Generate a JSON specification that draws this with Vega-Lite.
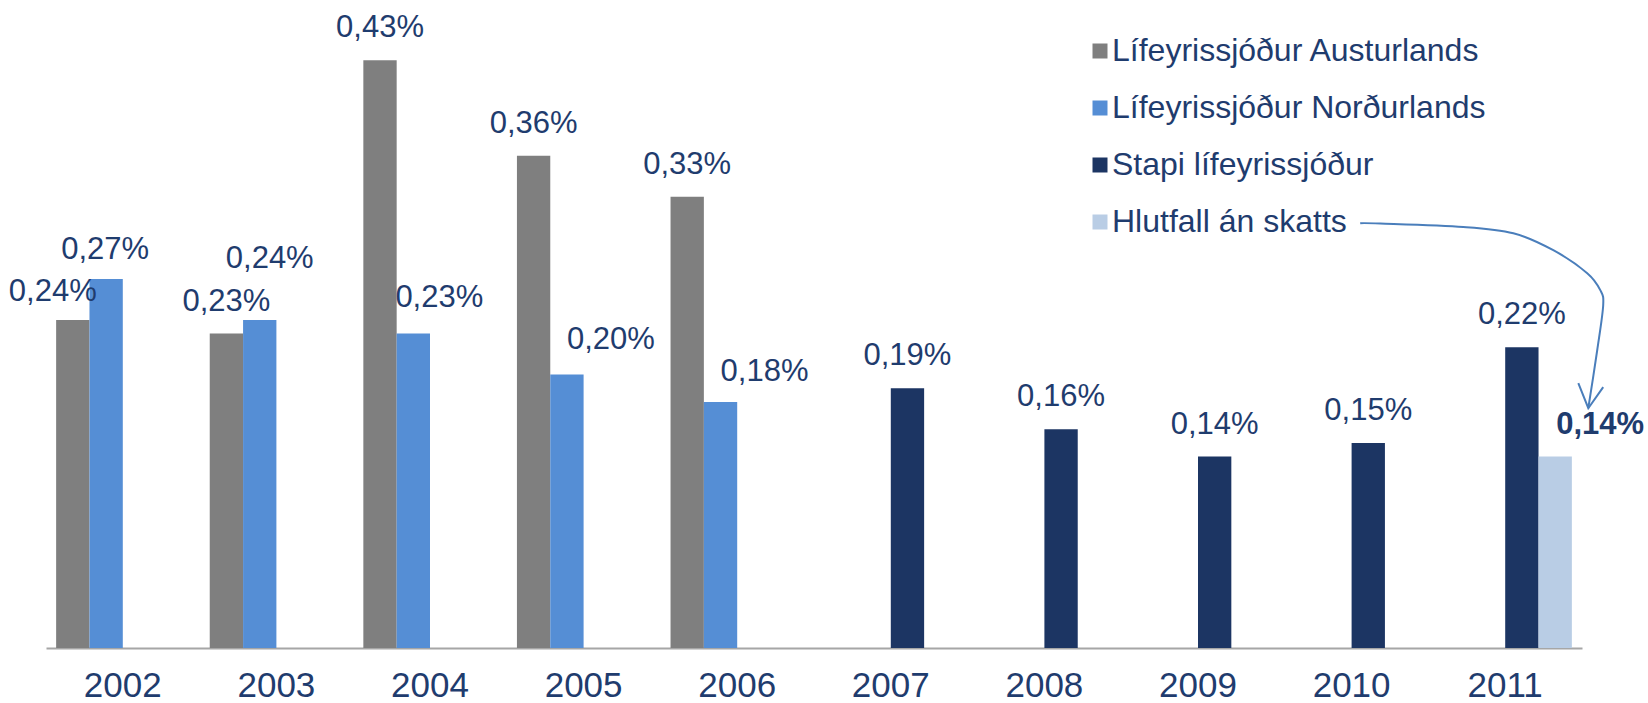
{
  "$schema": "https://vega.github.io/schema/vega-lite/v6.json",
  "autosize": {"type": "none"},
  "width": 1536,
  "height": 648,
  "padding": {"left": 46, "top": 0, "right": 66, "bottom": 55},
  "background": "white",
  "config": {
    "view": {"stroke": null},
    "font": "Liberation Sans",
    "legend": {
      "orient": "none",
      "legendX": 1038,
      "legendY": 35,
      "direction": "vertical",
      "symbolType": "square",
      "symbolSize": 225,
      "symbolStrokeWidth": 0,
      "labelFontSize": 32,
      "labelFont": "Liberation Sans",
      "labelColor": "#1F3C6E",
      "labelOffset": -4,
      "rowPadding": 25,
      "padding": 0,
      "labelLimit": 600
    }
  },
  "datasets": {
    "vals": [
      {"year": "2002", "series": "Lífeyrissjóður Austurlands", "value": 0.24},
      {"year": "2003", "series": "Lífeyrissjóður Austurlands", "value": 0.23},
      {"year": "2004", "series": "Lífeyrissjóður Austurlands", "value": 0.43},
      {"year": "2005", "series": "Lífeyrissjóður Austurlands", "value": 0.36},
      {"year": "2006", "series": "Lífeyrissjóður Austurlands", "value": 0.33},
      {"year": "2002", "series": "Lífeyrissjóður Norðurlands", "value": 0.27},
      {"year": "2003", "series": "Lífeyrissjóður Norðurlands", "value": 0.24},
      {"year": "2004", "series": "Lífeyrissjóður Norðurlands", "value": 0.23},
      {"year": "2005", "series": "Lífeyrissjóður Norðurlands", "value": 0.20},
      {"year": "2006", "series": "Lífeyrissjóður Norðurlands", "value": 0.18},
      {"year": "2007", "series": "Stapi lífeyrissjóður", "value": 0.19},
      {"year": "2008", "series": "Stapi lífeyrissjóður", "value": 0.16},
      {"year": "2009", "series": "Stapi lífeyrissjóður", "value": 0.14},
      {"year": "2010", "series": "Stapi lífeyrissjóður", "value": 0.15},
      {"year": "2011", "series": "Stapi lífeyrissjóður", "value": 0.22},
      {"year": "2011", "series": "Hlutfall án skatts", "value": 0.14}
    ],
    "curve": [
      {"i": 0, "ax": 8.556, "ay": 0.3107},
      {"i": 1, "ax": 8.687, "ay": 0.3105},
      {"i": 2, "ax": 9.227, "ay": 0.3080},
      {"i": 3, "ax": 9.553, "ay": 0.3034},
      {"i": 4, "ax": 9.813, "ay": 0.2910},
      {"i": 5, "ax": 10.034, "ay": 0.2742},
      {"i": 6, "ax": 10.119, "ay": 0.2618},
      {"i": 7, "ax": 10.138, "ay": 0.2507},
      {"i": 8, "ax": 10.099, "ay": 0.2178},
      {"i": 9, "ax": 10.041, "ay": 0.1754}
    ],
    "head": [
      {"i": 0, "ax": 9.976, "ay": 0.1937},
      {"i": 1, "ax": 10.041, "ay": 0.1754},
      {"i": 2, "ax": 10.138, "ay": 0.1908}
    ]
  },
  "layer": [
    {
      "data": {"name": "vals"},
      "transform": [
        {"calculate": "replace(format(datum.value, '.2f'), '.', ',') + '%'", "as": "label"},
        {"calculate": "datum.year=='2002' && datum.series=='Lífeyrissjóður Austurlands' ? 'a' : datum.year=='2004' && datum.series=='Lífeyrissjóður Norðurlands' ? 'b' : datum.year=='2002' && datum.series=='Lífeyrissjóður Norðurlands' ? 'c' : datum.year=='2003' && datum.series=='Lífeyrissjóður Norðurlands' ? 'd' : datum.year=='2005' && datum.series=='Lífeyrissjóður Norðurlands' ? 'e' : datum.year=='2006' && datum.series=='Lífeyrissjóður Norðurlands' ? 'g' : datum.series=='Hlutfall án skatts' ? 'f' : 'z'", "as": "grp"}
      ],
      "layer": [
        {
          "mark": {"type": "bar"},
          "encoding": {
            "x": {
              "field": "year", "type": "nominal",
              "scale": {"paddingInner": 0.132, "paddingOuter": 0.066},
              "axis": {
                "title": null, "labelAngle": 0, "ticks": false, "tickSize": 0,
                "labelPadding": 20, "labelFontSize": 35, "labelColor": "#1F3C6E",
                "labelFont": "Liberation Sans",
                "domainColor": "#A6A6A6", "domainWidth": 2, "grid": false
              }
            },
            "xOffset": {
              "field": "series", "type": "nominal",
              "scale": {"domain": ["Lífeyrissjóður Austurlands", "Lífeyrissjóður Norðurlands", "Stapi lífeyrissjóður", "Hlutfall án skatts"]}
            },
            "y": {"field": "value", "type": "quantitative", "scale": {"domain": [0, 0.474], "nice": false}, "axis": null},
            "color": {
              "field": "series", "type": "nominal",
              "scale": {
                "domain": ["Lífeyrissjóður Austurlands", "Lífeyrissjóður Norðurlands", "Stapi lífeyrissjóður", "Hlutfall án skatts"],
                "range": ["#7F7F7F", "#558ED5", "#1C3563", "#B9CDE5"]
              },
              "legend": {"title": null}
            }
          }
        },
        {
          "transform": [{"filter": "datum.grp == 'z'"}],
          "mark": {"type": "text", "baseline": "alphabetic", "dy": -23, "fontSize": 31, "color": "#1F3C6E"},
          "encoding": {
            "x": {"field": "year", "type": "nominal"},
            "xOffset": {"field": "series", "type": "nominal"},
            "y": {"field": "value", "type": "quantitative"},
            "text": {"field": "label"}
          }
        },
        {
          "transform": [{"filter": "datum.grp == 'a'"}],
          "mark": {"type": "text", "baseline": "alphabetic", "dy": -19, "dx": -20, "fontSize": 31, "color": "#1F3C6E"},
          "encoding": {
            "x": {"field": "year", "type": "nominal"},
            "xOffset": {"field": "series", "type": "nominal"},
            "y": {"field": "value", "type": "quantitative"},
            "text": {"field": "label"}
          }
        },
        {
          "transform": [{"filter": "datum.grp == 'b'"}],
          "mark": {"type": "text", "baseline": "alphabetic", "dy": -27, "dx": 26, "fontSize": 31, "color": "#1F3C6E"},
          "encoding": {
            "x": {"field": "year", "type": "nominal"},
            "xOffset": {"field": "series", "type": "nominal"},
            "y": {"field": "value", "type": "quantitative"},
            "text": {"field": "label"}
          }
        },
        {
          "transform": [{"filter": "datum.grp == 'c'"}],
          "mark": {"type": "text", "baseline": "alphabetic", "dy": -20, "dx": -1, "fontSize": 31, "color": "#1F3C6E"},
          "encoding": {
            "x": {"field": "year", "type": "nominal"},
            "xOffset": {"field": "series", "type": "nominal"},
            "y": {"field": "value", "type": "quantitative"},
            "text": {"field": "label"}
          }
        },
        {
          "transform": [{"filter": "datum.grp == 'd'"}],
          "mark": {"type": "text", "baseline": "alphabetic", "dy": -52, "dx": 10, "fontSize": 31, "color": "#1F3C6E"},
          "encoding": {
            "x": {"field": "year", "type": "nominal"},
            "xOffset": {"field": "series", "type": "nominal"},
            "y": {"field": "value", "type": "quantitative"},
            "text": {"field": "label"}
          }
        },
        {
          "transform": [{"filter": "datum.grp == 'e'"}],
          "mark": {"type": "text", "baseline": "alphabetic", "dy": -26, "dx": 44, "fontSize": 31, "color": "#1F3C6E"},
          "encoding": {
            "x": {"field": "year", "type": "nominal"},
            "xOffset": {"field": "series", "type": "nominal"},
            "y": {"field": "value", "type": "quantitative"},
            "text": {"field": "label"}
          }
        },
        {
          "transform": [{"filter": "datum.grp == 'g'"}],
          "mark": {"type": "text", "baseline": "alphabetic", "dy": -21, "dx": 44, "fontSize": 31, "color": "#1F3C6E"},
          "encoding": {
            "x": {"field": "year", "type": "nominal"},
            "xOffset": {"field": "series", "type": "nominal"},
            "y": {"field": "value", "type": "quantitative"},
            "text": {"field": "label"}
          }
        },
        {
          "transform": [{"filter": "datum.grp == 'f'"}],
          "mark": {"type": "text", "baseline": "alphabetic", "dy": -23, "dx": 45, "fontSize": 31, "fontWeight": "bold", "color": "#1F3C6E"},
          "encoding": {
            "x": {"field": "year", "type": "nominal"},
            "xOffset": {"field": "series", "type": "nominal"},
            "y": {"field": "value", "type": "quantitative"},
            "text": {"field": "label"}
          }
        }
      ]
    },
    {
      "layer": [
        {
          "data": {"name": "curve"},
          "mark": {"type": "line", "interpolate": "cardinal", "color": "#4A7EBB", "strokeWidth": 2},
          "encoding": {
            "x": {"field": "ax", "type": "quantitative", "scale": {"domain": [0, 10], "nice": false, "zero": false}, "axis": null},
            "y": {"field": "ay", "type": "quantitative", "scale": {"domain": [0, 0.474], "nice": false}, "axis": null},
            "order": {"field": "i", "type": "quantitative"}
          }
        },
        {
          "data": {"name": "head"},
          "mark": {"type": "line", "interpolate": "linear", "color": "#4A7EBB", "strokeWidth": 2},
          "encoding": {
            "x": {"field": "ax", "type": "quantitative"},
            "y": {"field": "ay", "type": "quantitative"},
            "order": {"field": "i", "type": "quantitative"}
          }
        }
      ]
    }
  ],
  "resolve": {"scale": {"x": "independent"}}
}
